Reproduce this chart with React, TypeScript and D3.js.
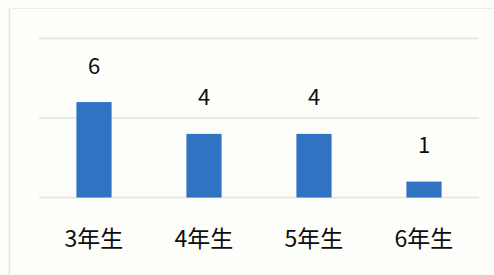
import React from "react";
import * as d3 from "d3";

const categories = ["3年生", "4年生", "5年生", "6年生"];
const values = [6, 4, 4, 1];
const gridTicks = [0, 5, 10];

const W = 494;
const H = 275;
const margin = { left: 39, right: 15, top: 40, bottom: 78 };

export default function App() {
  const x = d3
    .scaleBand<string>()
    .domain(categories)
    .range([margin.left, W - margin.right])
    .paddingInner(0.68)
    .paddingOuter(0.34);
  const y = d3
    .scaleLinear()
    .domain([0, 10])
    .range([H - margin.bottom + 0.5, margin.top - 1.5]);
  const font = "'Noto Sans CJK JP', 'Noto Sans', sans-serif";
  return (
    <div style={{ position: "fixed", left: 0, top: 0 }}>
      <svg width={W} height={H} style={{ display: "block" }}>
        <rect x={0} y={0} width={W} height={H} fill="#fdfdfa" />
        <line x1={9.5} x2={9.5} y1={8} y2={H} stroke="#e4e4e2" strokeWidth={1.5} />
        <line x1={12} x2={W} y1={8.5} y2={8.5} stroke="#ececea" strokeWidth={1} />
        {gridTicks.map((t) => (
          <line
            key={t}
            x1={margin.left}
            x2={W - margin.right}
            y1={y(t)}
            y2={y(t)}
            stroke="#e2e2e0"
            strokeWidth={1.3}
          />
        ))}
        {categories.map((c, i) => (
          <g key={c}>
            <rect
              x={x(c)}
              y={y(values[i])}
              width={x.bandwidth()}
              height={y(0) - y(values[i])}
              fill="#2f73c2"
            />
            <text
              x={(x(c) as number) + x.bandwidth() / 2}
              y={y(values[i]) - 28.5}
              textAnchor="middle"
              fontFamily={font}
              fontSize={22}
              fill="#0d0d0d"
            >
              {values[i]}
            </text>
            <text
              x={(x(c) as number) + x.bandwidth() / 2}
              y={246.5}
              textAnchor="middle"
              fontFamily={font}
              fontSize={23}
              fill="#0d0d0d"
            >
              {c}
            </text>
          </g>
        ))}
      </svg>
    </div>
  );
}
